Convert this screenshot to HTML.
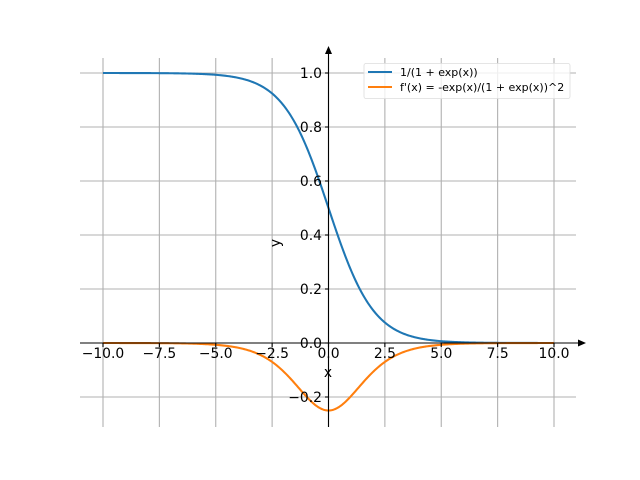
<!DOCTYPE html>
<html><head><style>body{margin:0;background:#fff}svg{display:block}text{font-family:"DejaVu Sans","Liberation Sans",sans-serif;font-size:13.9px;fill:#000}</style></head>
<body>
<svg id="s" width="640" height="480" xmlns="http://www.w3.org/2000/svg">
<g id="grid" stroke="#b0b0b0" stroke-width="1.1"></g>
<path id="p1" fill="none" stroke="#1f77b4" stroke-width="2.08"/>
<path id="p2" fill="none" stroke="#ff7f0e" stroke-width="2.08"/>
<line x1="80" y1="343" x2="580" y2="343" stroke="#000" stroke-width="1.1"/>
<polygon points="586,343 578,339.5 578,346.5" fill="#000"/>
<line x1="328.5" y1="427" x2="328.5" y2="52" stroke="#000" stroke-width="1.1"/>
<polygon points="328.5,46 325,54 332,54" fill="#000"/>
<g id="lab"></g>
<text x="328" y="377" text-anchor="middle">x</text>
<text transform="translate(280,243) rotate(-90)" text-anchor="middle">y</text>
<rect x="364" y="63.5" width="206" height="35" rx="2" fill="#fff" fill-opacity="0.8" stroke="#ddd" stroke-width="0.8"/>
<line x1="368" y1="72" x2="392" y2="72" stroke="#1f77b4" stroke-width="2.08"/>
<line x1="368" y1="87" x2="392" y2="87" stroke="#ff7f0e" stroke-width="2.08"/>
<text x="400" y="76" style="font-size:11px">1/(1 + exp(x))</text>
<text x="400" y="91" style="font-size:11px">f'(x) = -exp(x)/(1 + exp(x))^2</text>
</svg>
<script>
var X=function(x){return 328.5+x*22.55},Y=function(y){return 343-y*270};
var g=document.getElementById('grid'),l=document.getElementById('lab'),h='';
for(var i=0;i<9;i++){var v=-10+2.5*i,x=X(v);h+='<line x1="'+x+'" y1="58" x2="'+x+'" y2="427"/>';}
for(var k=-1;k<=5;k++){var y=Y(k*0.2);h+='<line x1="80" y1="'+y+'" x2="576" y2="'+y+'"/>';}
g.innerHTML=h;var t='';
for(var i=0;i<9;i++){var v=-10+2.5*i;t+='<line x1="'+X(v)+'" y1="343" x2="'+X(v)+'" y2="347" stroke="#000" stroke-width="1.1"/><text x="'+X(v)+'" y="358" text-anchor="middle">'+(v<0?'\u2212':'')+Math.abs(v).toFixed(1)+'</text>';}
for(var k=-1;k<=5;k++){var v=k*0.2;t+='<line x1="325" y1="'+Y(v)+'" x2="328.5" y2="'+Y(v)+'" stroke="#000" stroke-width="1.1"/><text x="322" y="'+(Y(v)+5)+'" text-anchor="end">'+(v<0?'\u2212':'')+Math.abs(v).toFixed(1)+'</text>';}
l.innerHTML=t;
var a='',b='';for(var i=0;i<=400;i++){var x=-10+i*0.05,e=Math.exp(x),f=1/(1+e),d=-e/((1+e)*(1+e));a+=(i?'L':'M')+X(x).toFixed(2)+' '+Y(f).toFixed(2);b+=(i?'L':'M')+X(x).toFixed(2)+' '+Y(d).toFixed(2);}
document.getElementById('p1').setAttribute('d',a);document.getElementById('p2').setAttribute('d',b);
</script>
</body></html>
